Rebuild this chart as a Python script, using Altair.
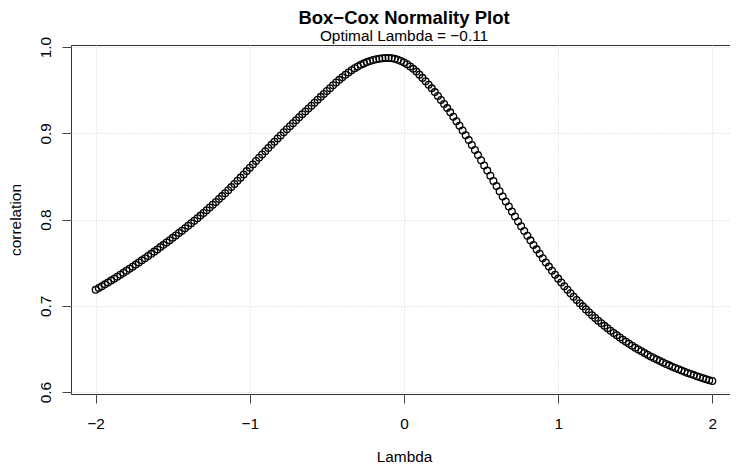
import altair as alt
import pandas as pd

# correlation, lambda grid -2.00 .. 2.00 in steps of 0.02
left_tail = [0.71850, 0.72059, 0.72271, 0.72486, 0.72703, 0.72923, 0.73146, 0.73371, 0.73599,
             0.73829, 0.74062, 0.74298, 0.74537, 0.74778, 0.75021, 0.75268, 0.75517, 0.75768,
             0.76023, 0.76280, 0.76539, 0.76802, 0.77066, 0.77334, 0.77604, 0.77877, 0.78152,
             0.78431, 0.78711, 0.78995, 0.79281, 0.79570, 0.79861]            # -2.00 .. -1.36
rise = [0.80156, 0.80457, 0.80763, 0.81075, 0.81392, 0.81714, 0.82042, 0.82375, 0.82714,
        0.83058, 0.83407, 0.83762, 0.84122, 0.84488, 0.84859, 0.85235, 0.85617, 0.86004]  # -1.34 .. -1.00
upper_rise = [0.86393, 0.86778, 0.87161, 0.87540, 0.87917, 0.88290, 0.88661, 0.89028, 0.89393,
              0.89754, 0.90113, 0.90468, 0.90821, 0.91170, 0.91517, 0.91860, 0.92201, 0.92538,
              0.92872, 0.93204]                                               # -0.98 .. -0.60
approach_peak = [0.93544, 0.93884, 0.94224, 0.94564, 0.94904, 0.95234, 0.95564, 0.95884,
                 0.96194, 0.96494, 0.96784, 0.97054, 0.97304, 0.97534, 0.97744, 0.97934,
                 0.98104, 0.98254, 0.98384, 0.98494, 0.98584, 0.98654, 0.98704, 0.98734]  # -0.58 .. -0.12
peak = [0.98736, 0.98700, 0.98630, 0.98524, 0.98384, 0.98208, 0.97996, 0.97750, 0.97468,
        0.97152, 0.96800]                                                     # -0.10 .. 0.10
fall = [0.96423, 0.96032, 0.95627, 0.95208, 0.94775, 0.94329, 0.93871, 0.93401, 0.92919,
        0.92425, 0.91919, 0.91401, 0.90871, 0.90329, 0.89775, 0.89211, 0.88639, 0.88059,
        0.87471, 0.86875, 0.86275, 0.85675, 0.85075, 0.84475, 0.83875, 0.83277, 0.82683,
        0.82093, 0.81507, 0.80925, 0.80349, 0.79781, 0.79221, 0.78669, 0.78125, 0.77589,
        0.77061, 0.76541, 0.76029, 0.75525, 0.75030, 0.74545, 0.74070, 0.73605, 0.73150]  # 0.12 .. 1.00
right_tail = [0.72707, 0.72276, 0.71857, 0.71451, 0.71056, 0.70672, 0.70299, 0.69937, 0.69585,
              0.69244, 0.68912, 0.68590, 0.68276, 0.67972, 0.67677, 0.67390, 0.67111, 0.66840,
              0.66577, 0.66321, 0.66073, 0.65831, 0.65597, 0.65369, 0.65148, 0.64933, 0.64725,
              0.64522, 0.64325, 0.64134, 0.63948, 0.63768, 0.63592, 0.63422, 0.63256, 0.63096,
              0.62940, 0.62788, 0.62641, 0.62497, 0.62358, 0.62223, 0.62092, 0.61965, 0.61841,
              0.61721, 0.61604, 0.61490, 0.61380, 0.61273]                    # 1.02 .. 2.00

correlation = left_tail + rise + upper_rise + approach_peak + peak + fall + right_tail
lambdas = [round(-2 + 0.02 * i, 2) for i in range(len(correlation))]
assert len(correlation) == 201

x_ticks = [-2, -1, 0, 1, 2]
y_ticks = [0.6, 0.7, 0.8, 0.9, 1.0]
title_text = "Box\u2212Cox Normality Plot"
subtitle_text = "Optimal Lambda = \u22120.11"

df = pd.DataFrame({"Lambda": lambdas, "correlation": correlation})

# R-style 4% padding of the y range; x range padded the same way on the left,
# cut a little on the right so the frame fits inside the page
y_lo, y_hi = min(correlation), max(correlation)
y_pad = 0.04 * (y_hi - y_lo)
x_domain = [-2.16, 2.1146]

FONT = "Liberation Sans"
PLOT_W, PLOT_H = 659, 349

chart = alt.Chart(df).mark_point(
    shape="circle", filled=False, size=45, strokeWidth=1.3, color="black", opacity=1
).encode(
    x=alt.X("Lambda:Q",
            scale=alt.Scale(domain=x_domain, nice=False, zero=False),
            axis=alt.Axis(values=x_ticks, format="d", title="Lambda",
                          tickSize=9, labelPadding=25, labelBaseline="alphabetic",
                          titleX=333, titleY=67.5, titleAlign="center",
                          titleBaseline="alphabetic", titleAngle=0)),
    y=alt.Y("correlation:Q",
            scale=alt.Scale(domain=[y_lo - y_pad, y_hi + y_pad], nice=False, zero=False),
            axis=alt.Axis(values=y_ticks, format=".1f", title="correlation",
                          tickSize=9, labelPadding=12, labelAngle=270,
                          labelAlign="center", labelBaseline="alphabetic",
                          titleX=-50.5, titleY=174.5, titleAngle=270, titleAlign="center",
                          titleBaseline="alphabetic")),
).properties(
    width=PLOT_W,
    height=PLOT_H,
    title=alt.TitleParams(text=title_text, subtitle=subtitle_text,
                          font=FONT, fontSize=18.5, fontWeight="bold", color="black",
                          subtitleFont=FONT, subtitleFontSize=15.4, subtitleColor="black",
                          subtitlePadding=1.0, anchor="middle", frame="group", offset=-8,
                          dx=3.5),
    autosize=alt.AutoSizeParams(type="none"),
    padding={"left": 63, "top": 37, "right": 0, "bottom": 72},
).configure_view(
    stroke="#333333", strokeWidth=1
).configure_axis(
    domain=False, grid=True, gridColor="#d3d3d3", gridDash=[1, 2], gridWidth=1,
    tickColor="#444444", tickWidth=1,
    labelFont=FONT, labelFontSize=15.4, labelColor="black",
    titleFont=FONT, titleFontSize=15.4, titleFontWeight="normal", titleColor="black",
    labelFlush=False, labelOverlap=False,
)

chart.save("out.html", embed_options={"renderer": "svg", "actions": False})
